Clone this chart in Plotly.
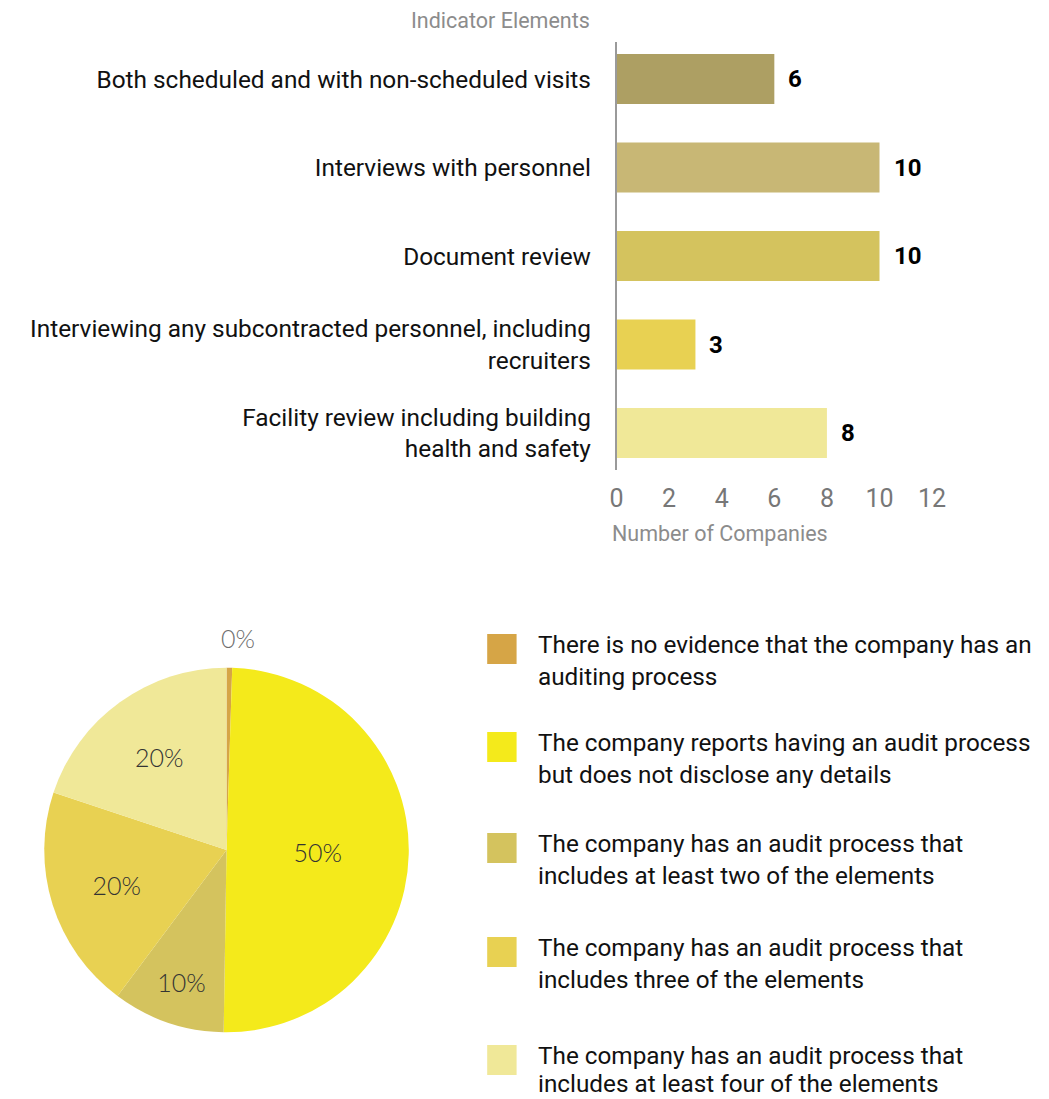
import plotly.graph_objects as go

W, H = 1049, 1099

# ---- bar chart data: audit elements used by companies ----
elements = [
    "Both scheduled and with non-scheduled visits",
    "Interviews with personnel",
    "Document review",
    "Interviewing any subcontracted personnel, including<br>recruiters",
    "Facility review including building<br>health and safety",
]
companies = [6, 10, 10, 3, 8]
bar_colors = ["#AD9F63", "#C8B775", "#D4C35E", "#E8D152", "#F0E898"]
x_ticks = [0, 2, 4, 6, 8, 10, 12]

# ---- pie chart data: share of companies by audit-process level ----
levels = [
    "There is no evidence that the company has an<br>auditing process",
    "The company reports having an audit process<br>but does not disclose any details",
    "The company has an audit process that<br>includes at least two of the elements",
    "The company has an audit process that<br>includes three of the elements",
    "The company has an audit process that<br>includes at least four of the elements",
]
shares = [0.5, 50, 10, 20, 20]
pie_colors = ["#D6A546", "#F4EA1B", "#D4C35E", "#E8D152", "#F0E898"]

FONT = "Roboto"


def px_x(x):
    return x / W


def px_y(y):
    return 1 - y / H


fig = go.Figure()

fig.add_trace(go.Bar(
    x=companies,
    y=elements,
    orientation="h",
    marker=dict(color=bar_colors, line=dict(width=0)),
    xaxis="x", yaxis="y",
    hoverinfo="x+y",
    showlegend=False,
))

total = sum(shares)
pct_text = [f"{round(100 * v / total)}%" for v in shares]
inside_text = [("" if t == "0%" else t) for t in pct_text]

fig.add_trace(go.Pie(
    values=shares,
    labels=[l.replace("<br>", " ") for l in levels],
    marker=dict(colors=pie_colors, line=dict(width=0)),
    sort=False,
    direction="clockwise",
    rotation=0,
    text=inside_text,
    textinfo="text",
    textposition="inside",
    insidetextorientation="horizontal",
    insidetextfont=dict(family="Lato", size=25, color="#333333", weight=300),
    domain=dict(x=[px_x(38), px_x(410)], y=[px_y(1036), px_y(664)]),
    showlegend=False,
    hoverinfo="label+percent",
))

annotations = []

# value labels next to the bars
for v, cat in zip(companies, elements):
    annotations.append(dict(
        x=v, y=cat, xref="x", yref="y", text=f"<b>{v}</b>",
        xanchor="left", yanchor="middle", xshift=12, showarrow=False,
        font=dict(family=FONT, size=24, color="#000000"),
    ))

# axis titles
annotations.append(dict(
    x=px_x(597), y=px_y(21), xref="paper", yref="paper", text="Indicator Elements",
    xanchor="right", yanchor="middle", showarrow=False,
    font=dict(family=FONT, size=21.5, color="#8c8c8c"),
))
annotations.append(dict(
    x=px_x(615), y=px_y(533), xref="paper", yref="paper", text="Number of Companies",
    xanchor="left", yanchor="middle", showarrow=False,
    font=dict(family=FONT, size=21.5, color="#8c8c8c"),
))

# label for the near-zero pie slice, shown above the pie
annotations.append(dict(
    x=px_x(236), y=px_y(638), xref="paper", yref="paper", text=pct_text[0],
    xanchor="center", yanchor="middle", showarrow=False,
    font=dict(family="Lato", size=25, color="#6e6e6e", weight=300),
))

# custom legend for the pie
shapes = []
swatch_tops = [634, 732, 833, 937, 1045]
for top, label, color in zip(swatch_tops, levels, pie_colors):
    shapes.append(dict(
        type="rect", xref="paper", yref="paper",
        x0=px_x(490), x1=px_x(520), y0=px_y(top + 30), y1=px_y(top),
        fillcolor=color, line=dict(width=0),
    ))
    for i, line in enumerate(label.split("<br>")):
        y_line = min(top + 10 + 32 * i, H - 16)
        annotations.append(dict(
            x=px_x(540), y=px_y(y_line), xref="paper", yref="paper",
            text=line, xanchor="left", yanchor="middle", showarrow=False,
            font=dict(family=FONT, size=24.3, color="#111111"),
        ))

fig.update_layout(
    width=W, height=H,
    margin=dict(l=0, r=0, t=0, b=0),
    paper_bgcolor="white", plot_bgcolor="white",
    bargap=0.435,
    xaxis=dict(
        domain=[px_x(622), px_x(944)],
        anchor="y",
        range=[0, 12],
        tickvals=x_ticks,
        showgrid=False, zeroline=False, showline=False,
        ticks="", ticklabelstandoff=11,
        tickfont=dict(family=FONT, size=25, color="#777777"),
    ),
    yaxis=dict(
        domain=[px_y(470), px_y(42)],
        anchor="x",
        type="category",
        range=[4.418, -0.418],
        showgrid=False, zeroline=False,
        showline=True, linecolor="#9a9a9a", linewidth=1.5,
        ticks="", ticklabelstandoff=19,
        tickfont=dict(family=FONT, size=24.4, color="#111111"),
    ),
    annotations=annotations,
    shapes=shapes,
)

fig.write_html("out.html")
